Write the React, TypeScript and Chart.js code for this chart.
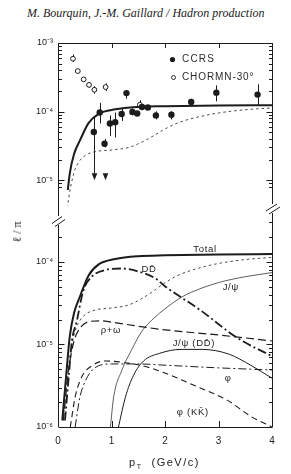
import React, { useEffect, useRef } from 'react';
import { Chart, registerables } from 'chart.js';

Chart.register(...registerables);

// ---------------- data ----------------
const xTicks = [0, 1, 2, 3, 4];
const upperTickValues = [1e-3, 1e-4, 1e-5];
const upperTickLabels = ['10⁻³', '10⁻⁴', '10⁻⁵'];
const lowerTickValues = [1e-4, 1e-5, 1e-6];
const lowerTickLabels = ['10⁻⁴', '10⁻⁵', '10⁻⁶'];

// CCRS (filled circles)
const ccrsPt = [0.67, 0.78, 0.87, 0.97, 1.07, 1.19, 1.28, 1.39, 1.48, 1.57, 1.68, 1.83, 2.12, 2.49, 2.96, 3.73];
const ccrsVal = [5.05e-5, 9.7e-5, 3.4e-5, 6.7e-5, 7.0e-5, 9.25e-5, 1.86e-4, 9.9e-5, 9.4e-5, 1.17e-4, 1.15e-4, 8.8e-5, 9.0e-5, 1.38e-4, 1.89e-4, 1.77e-4];
const ccrsHigh = [8.4e-5, 1.34e-4, 4.0e-5, 8.8e-5, 9.7e-5, 1.11e-4, 1.95e-4, 1.11e-4, 1.0e-4, 1.25e-4, 1.22e-4, 1.01e-4, 1.01e-4, 1.54e-4, 2.41e-4, 2.5e-4];
const ccrsLow = [1.25e-5, 6.7e-5, 3.0e-5, 4.4e-5, 4.2e-5, 7.3e-5, 1.54e-4, 8.8e-5, 8.8e-5, 1.1e-4, 1.08e-4, 7.7e-5, 7.7e-5, 1.28e-4, 1.41e-4, 1.22e-4];
const ccrsArrowPt = [0.67, 0.87];
const ccrsArrowVal = [1.0e-5, 1.0e-5];

// CHORMN-30° (open circles)
const chormnPt = [0.28, 0.37, 0.48, 0.58, 0.68, 0.89, 1.53];
const chormnVal = [5.9e-4, 3.9e-4, 2.95e-4, 2.45e-4, 2.08e-4, 2.28e-4, 1.26e-4];
const chormnHigh = [6.8e-4, 4.1e-4, 3.1e-4, 2.7e-4, 2.35e-4, 2.57e-4, 1.47e-4];
const chormnLow = [5.3e-4, 3.7e-4, 2.8e-4, 2.24e-4, 1.83e-4, 2.0e-4, 1.1e-4];

// model curves
const totalPt = [0.08, 0.15, 0.22, 0.3, 0.41, 0.57, 0.76, 1.07, 1.5, 2.0, 3.0, 4.0];
const totalVal = [1.2e-6, 4e-6, 1.25e-5, 2.4e-5, 3.8e-5, 6.8e-5, 9.3e-5, 1.08e-4, 1.17e-4, 1.2e-4, 1.23e-4, 1.24e-4];

const ddPt = [0.13, 0.2, 0.26, 0.35, 0.47, 0.63, 0.88, 1.19, 1.51, 1.82, 2.01, 2.66, 3.35, 4.0];
const ddVal = [1.2e-6, 4e-6, 1.1e-5, 1.9e-5, 4.4e-5, 6.6e-5, 7.95e-5, 8.3e-5, 7.6e-5, 6.3e-5, 5.0e-5, 2.6e-5, 1.2e-5, 7.2e-6];

const dottedPt = [0.1, 0.2, 0.3, 0.38, 0.51, 0.69, 1.0, 1.32, 1.57, 1.82, 1.95, 2.23, 2.85, 3.47, 4.0];
const dottedVal = [1.3e-6, 5.5e-6, 1.3e-5, 1.8e-5, 2.3e-5, 2.6e-5, 2.76e-5, 3.0e-5, 3.6e-5, 4.6e-5, 5.3e-5, 6.8e-5, 9.1e-5, 1.06e-4, 1.13e-4];

const rhoPt = [0.1, 0.2, 0.3, 0.42, 0.6, 0.8, 1.0, 1.5, 2.0, 3.0, 4.0];
const rhoVal = [1.2e-6, 5e-6, 1.1e-5, 1.6e-5, 1.9e-5, 1.93e-5, 1.86e-5, 1.66e-5, 1.5e-5, 1.3e-5, 1.1e-5];

const jpsiPt = [0.98, 1.04, 1.19, 1.38, 1.57, 1.8, 2.0, 2.3, 2.5, 3.0, 3.5, 4.0];
const jpsiVal = [1e-6, 2.3e-6, 4.8e-6, 8.7e-6, 1.45e-5, 2.1e-5, 2.7e-5, 3.7e-5, 4.3e-5, 5.6e-5, 6.6e-5, 7.4e-5];

const jpsiDDPt = [1.13, 1.26, 1.41, 1.6, 1.9, 2.3, 2.7, 3.2, 3.6, 4.0];
const jpsiDDVal = [1e-6, 2.3e-6, 4.2e-6, 6.3e-6, 7.8e-6, 8.7e-6, 8.7e-6, 7.6e-6, 5.6e-6, 3.9e-6];

const phiPt = [0.32, 0.41, 0.51, 0.69, 1.0, 1.5, 2.0, 3.0, 4.0];
const phiVal = [1e-6, 2.3e-6, 3.6e-6, 5.2e-6, 5.8e-6, 5.8e-6, 5.6e-6, 5.2e-6, 4.9e-6];

const phiKKPt = [0.23, 0.32, 0.44, 0.63, 0.88, 1.26, 1.63, 2.0, 2.54, 3.17, 3.6, 4.0];
const phiKKVal = [1e-6, 2.3e-6, 4e-6, 5.5e-6, 6.3e-6, 6.0e-6, 5.4e-6, 4.5e-6, 3.2e-6, 2.1e-6, 1.35e-6, 1e-6];

// curve labels (text, anchor pT, anchor value)
const curveLabelText = ['Total', 'DD̄', 'J/ψ', 'ρ+ω', 'J/ψ (DD̄)', 'φ', 'φ (KK̄)'];
const curveLabelPt = [2.75, 1.7, 3.23, 0.99, 2.54, 3.18, 2.52];
const curveLabelVal = [1.43e-4, 8.0e-5, 4.9e-5, 1.46e-5, 1.02e-5, 3.9e-6, 1.52e-6];

// ---------------- helpers ----------------
const INK = '#1c1c1c';
const FONT = '"Liberation Sans", Arial, sans-serif';

const pairs = (xs: number[], ys: number[]) => xs.map((x, i) => ({ x, y: ys[i] }));

function tickLabel(values: number[], labels: string[]) {
  return (v: any) => {
    const n = Number(v);
    for (let i = 0; i < values.length; i++) {
      if (Math.abs(n - values[i]) / values[i] < 1e-6) return labels[i];
    }
    return '';
  };
}

function curve(data: { x: number; y: number }[], width: number, dash: number[], color = INK, clip: any = 0) {
  return {
    data,
    showLine: true,
    borderColor: color,
    borderWidth: width,
    borderDash: dash,
    pointRadius: 0,
    cubicInterpolationMode: 'monotone',
    clip,
  };
}

type FrameOpts = {
  canvasTop: number;
  leftFrom: number;
  leftTo: number;
  rightFrom: number;
  rightTo: number;
  drawTop: boolean;
  drawBottom: boolean;
};

function framePlugin(o: FrameOpts) {
  return {
    id: 'frame',
    afterDatasetsDraw(chart: any) {
      const ctx = chart.ctx;
      const a = chart.chartArea;
      const ys = chart.scales.y;
      const xs = chart.scales.x;
      const c = (py: number) => py - o.canvasTop;
      const L = Math.round(a.left) + 0.5;
      const R = Math.round(a.right) + 0.5;
      ctx.save();
      ctx.strokeStyle = INK;
      ctx.lineWidth = 1;
      ctx.beginPath();
      ctx.moveTo(L, c(o.leftFrom));
      ctx.lineTo(L, c(o.leftTo));
      ctx.moveTo(R, c(o.rightFrom));
      ctx.lineTo(R, c(o.rightTo));
      if (o.drawTop) {
        ctx.moveTo(L, Math.round(a.top) + 0.5);
        ctx.lineTo(R, Math.round(a.top) + 0.5);
      }
      if (o.drawBottom) {
        ctx.moveTo(L, Math.round(a.bottom) + 0.5);
        ctx.lineTo(R, Math.round(a.bottom) + 0.5);
      }
      const min = ys.min;
      const max = ys.max;
      for (let d = Math.floor(Math.log10(min)); d <= Math.ceil(Math.log10(max)); d++) {
        for (let m = 1; m <= 9; m++) {
          const v = m * Math.pow(10, d);
          if (v < min * 0.9999 || v > max * 1.0001) continue;
          const y = Math.round(ys.getPixelForValue(v)) + 0.5;
          const py = y + o.canvasTop;
          const len = m === 1 ? 6 : 3.5;
          if (py >= o.leftFrom && py <= o.leftTo) {
            ctx.moveTo(L, y);
            ctx.lineTo(L + len, y);
          }
          if (py >= o.rightFrom && py <= o.rightTo) {
            ctx.moveTo(R, y);
            ctx.lineTo(R - len, y);
          }
        }
      }
      for (const t of xTicks) {
        if (t <= xs.min || t >= xs.max) continue;
        const x = Math.round(xs.getPixelForValue(t)) + 0.5;
        if (o.drawTop) {
          ctx.moveTo(x, a.top);
          ctx.lineTo(x, a.top + 5);
        }
        if (o.drawBottom) {
          ctx.moveTo(x, a.bottom);
          ctx.lineTo(x, a.bottom - 6);
        }
      }
      ctx.stroke();
      ctx.restore();
    },
  };
}

const upperExtrasPlugin = {
  id: 'upperExtras',
  beforeDatasetsDraw(chart: any) {
    const ctx = chart.ctx;
    const xs = chart.scales.x;
    const ys = chart.scales.y;
    ctx.save();
    ctx.strokeStyle = INK;
    ctx.lineWidth = 1;
    ctx.beginPath();
    ccrsPt.forEach((p, i) => {
      const x = Math.round(xs.getPixelForValue(p)) + 0.5;
      ctx.moveTo(x, ys.getPixelForValue(ccrsHigh[i]));
      ctx.lineTo(x, ys.getPixelForValue(ccrsLow[i]));
    });
    chormnPt.forEach((p, i) => {
      const x = Math.round(xs.getPixelForValue(p)) + 0.5;
      ctx.moveTo(x, ys.getPixelForValue(chormnHigh[i]));
      ctx.lineTo(x, ys.getPixelForValue(chormnLow[i]));
    });
    ctx.stroke();
    ctx.fillStyle = INK;
    ccrsArrowPt.forEach((p, i) => {
      const x = Math.round(xs.getPixelForValue(p)) + 0.5;
      const y = ys.getPixelForValue(ccrsArrowVal[i]);
      ctx.beginPath();
      ctx.moveTo(x - 2.8, y - 7);
      ctx.lineTo(x + 2.8, y - 7);
      ctx.lineTo(x, y);
      ctx.closePath();
      ctx.fill();
    });
    ctx.restore();
  },
  afterDraw(chart: any) {
    const ctx = chart.ctx;
    const a = chart.chartArea;
    ctx.save();
    // legend
    ctx.fillStyle = INK;
    ctx.strokeStyle = INK;
    ctx.beginPath();
    ctx.arc(a.left + 114.5, a.top + 16.5, 2.6, 0, Math.PI * 2);
    ctx.fill();
    ctx.beginPath();
    ctx.lineWidth = 0.9;
    ctx.arc(a.left + 115.5, a.top + 34.5, 2.0, 0, Math.PI * 2);
    ctx.stroke();
    ctx.font = '10px ' + FONT;
    (ctx as any).letterSpacing = '1.2px';
    ctx.textBaseline = 'middle';
    ctx.textAlign = 'left';
    ctx.fillStyle = '#2a2a2a';
    ctx.fillText('CCRS', a.left + 124, a.top + 16.5);
    (ctx as any).letterSpacing = '0.9px';
    ctx.fillText('CHORMN-30°', a.left + 124, a.top + 34.5);
    // axis break marks (page coords -> canvas coords)
    const top = 30;
    ctx.strokeStyle = INK;
    ctx.lineWidth = 1;
    ctx.beginPath();
    ctx.moveTo(52, 223.5 - top);
    ctx.lineTo(62, 216.5 - top);
    ctx.moveTo(55, 226.5 - top);
    ctx.lineTo(65, 219.5 - top);
    ctx.moveTo(266, 211 - top);
    ctx.lineTo(277, 204 - top);
    ctx.moveTo(269, 214 - top);
    ctx.lineTo(280, 207 - top);
    ctx.stroke();
    ctx.restore();
  },
};

const lowerLabelsPlugin = {
  id: 'lowerLabels',
  afterDatasetsDraw(chart: any) {
    const ctx = chart.ctx;
    const xs = chart.scales.x;
    const ys = chart.scales.y;
    ctx.save();
    ctx.fillStyle = '#222';
    ctx.font = '9.5px ' + FONT;
    (ctx as any).letterSpacing = '0.7px';
    ctx.textAlign = 'center';
    ctx.textBaseline = 'middle';
    curveLabelText.forEach((t, i) => {
      ctx.fillText(t, xs.getPixelForValue(curveLabelPt[i]), ys.getPixelForValue(curveLabelVal[i]));
    });
    ctx.restore();
  },
};

function baseOptions(yMin: number, yMax: number, tv: number[], tl: string[], showX: boolean, padding: any) {
  return {
    responsive: false,
    maintainAspectRatio: false,
    animation: false,
    events: [],
    layout: { padding },
    plugins: { legend: { display: false }, tooltip: { enabled: false }, title: { display: false } },
    scales: {
      x: {
        type: 'linear',
        min: 0,
        max: 4,
        display: showX,
        grid: { display: false, drawTicks: false },
        border: { display: false },
        ticks: {
          stepSize: 1,
          autoSkip: false,
          padding: 8,
          color: '#222',
          font: { size: 10, family: FONT },
          callback: (v: any) => (xTicks.includes(Number(v)) ? String(v) : ''),
        },
        afterFit: (s: any) => {
          s.height = 30;
        },
      },
      y: {
        type: 'logarithmic',
        min: yMin,
        max: yMax,
        position: 'left',
        grid: { display: false, drawTicks: false },
        border: { display: false },
        ticks: {
          autoSkip: false,
          padding: 5,
          color: '#222',
          font: { size: 9, family: FONT },
          callback: tickLabel(tv, tl),
        },
        afterFit: (s: any) => {
          s.width = 58;
        },
      },
    },
  };
}

export default function App() {
  const upperRef = useRef<HTMLCanvasElement>(null);
  const lowerRef = useRef<HTMLCanvasElement>(null);

  useEffect(() => {
    const upper = new Chart(upperRef.current as HTMLCanvasElement, {
      type: 'scatter',
      data: {
        datasets: [
          {
            data: pairs(ccrsPt, ccrsVal),
            pointRadius: 3.2,
            pointBackgroundColor: INK,
            pointBorderColor: INK,
            pointBorderWidth: 0,
            clip: 0,
          },
          {
            data: pairs(chormnPt, chormnVal),
            pointRadius: 2.4,
            pointBackgroundColor: '#fff',
            pointBorderColor: INK,
            pointBorderWidth: 1,
            clip: 0,
          },
          curve(pairs(totalPt, totalVal), 2, [], INK, 0),
          curve(pairs(dottedPt, dottedVal), 0.9, [2.5, 3], '#333', { left: 0, top: 0, right: 0, bottom: 16 }),
        ] as any,
      },
      options: baseOptions(7.2e-6, 1e-3, upperTickValues, upperTickLabels, false, {
        top: 13,
        bottom: 20,
        left: 0,
        right: 19,
      }) as any,
      plugins: [
        upperExtrasPlugin,
        framePlugin({
          canvasTop: 30,
          leftFrom: 43,
          leftTo: 216,
          rightFrom: 43,
          rightTo: 204,
          drawTop: true,
          drawBottom: false,
        }),
      ] as any,
    });

    const lower = new Chart(lowerRef.current as HTMLCanvasElement, {
      type: 'scatter',
      data: {
        datasets: [
          curve(pairs(totalPt, totalVal), 2, []),
          curve(pairs(ddPt, ddVal), 1.8, [9, 3, 2, 3]),
          curve(pairs(dottedPt, dottedVal), 0.9, [2.5, 3], '#333'),
          curve(pairs(rhoPt, rhoVal), 1.2, [8, 4]),
          curve(pairs(jpsiPt, jpsiVal), 0.8, [], '#333'),
          curve(pairs(jpsiDDPt, jpsiDDVal), 1.0, []),
          curve(pairs(phiPt, phiVal), 1.0, [8, 3, 2, 3]),
          curve(pairs(phiKKPt, phiKKVal), 1.1, [6, 4]),
        ] as any,
      },
      options: baseOptions(1e-6, 3.0e-4, lowerTickValues, lowerTickLabels, true, {
        top: 8,
        bottom: 17,
        left: 0,
        right: 19,
      }) as any,
      plugins: [
        lowerLabelsPlugin,
        framePlugin({
          canvasTop: 212,
          leftFrom: 225,
          leftTo: 427,
          rightFrom: 213,
          rightTo: 427,
          drawTop: false,
          drawBottom: true,
        }),
      ] as any,
    });

    return () => {
      upper.destroy();
      lower.destroy();
    };
  }, []);

  return (
    <div
      style={{
        position: 'absolute',
        left: 0,
        top: 0,
        width: 291,
        height: 474,
        background: '#fff',
        overflow: 'hidden',
      }}
    >
      <div
        style={{
          position: 'absolute',
          left: 27,
          top: 6,
          fontFamily: '"Liberation Serif", "Times New Roman", serif',
          fontStyle: 'italic',
          fontSize: 12,
          lineHeight: '14px',
          color: '#222',
          whiteSpace: 'nowrap',
        }}
      >
        M. Bourquin, J.-M. Gaillard / Hadron production
      </div>
      <canvas ref={upperRef} width={291} height={210} style={{ position: 'absolute', left: 0, top: 30 }} />
      <canvas ref={lowerRef} width={291} height={262} style={{ position: 'absolute', left: 0, top: 212 }} />
      <div
        style={{
          position: 'absolute',
          left: 17,
          top: 232,
          transform: 'translate(-50%, -50%) rotate(-90deg)',
          fontFamily: '"Liberation Serif", serif',
          fontSize: 12,
          lineHeight: '14px',
          color: '#222',
          whiteSpace: 'nowrap',
        }}
      >
        ℓ / π
      </div>
      <div
        style={{
          position: 'absolute',
          left: 129,
          top: 455,
          fontFamily: FONT,
          fontSize: 11,
          lineHeight: '14px',
          letterSpacing: '1.5px',
          color: '#222',
          whiteSpace: 'nowrap',
        }}
      >
        p<span style={{ fontSize: 7, position: 'relative', top: 3 }}>T</span>
        {'\u00a0\u00a0(GeV/c)'}
      </div>
    </div>
  );
}
